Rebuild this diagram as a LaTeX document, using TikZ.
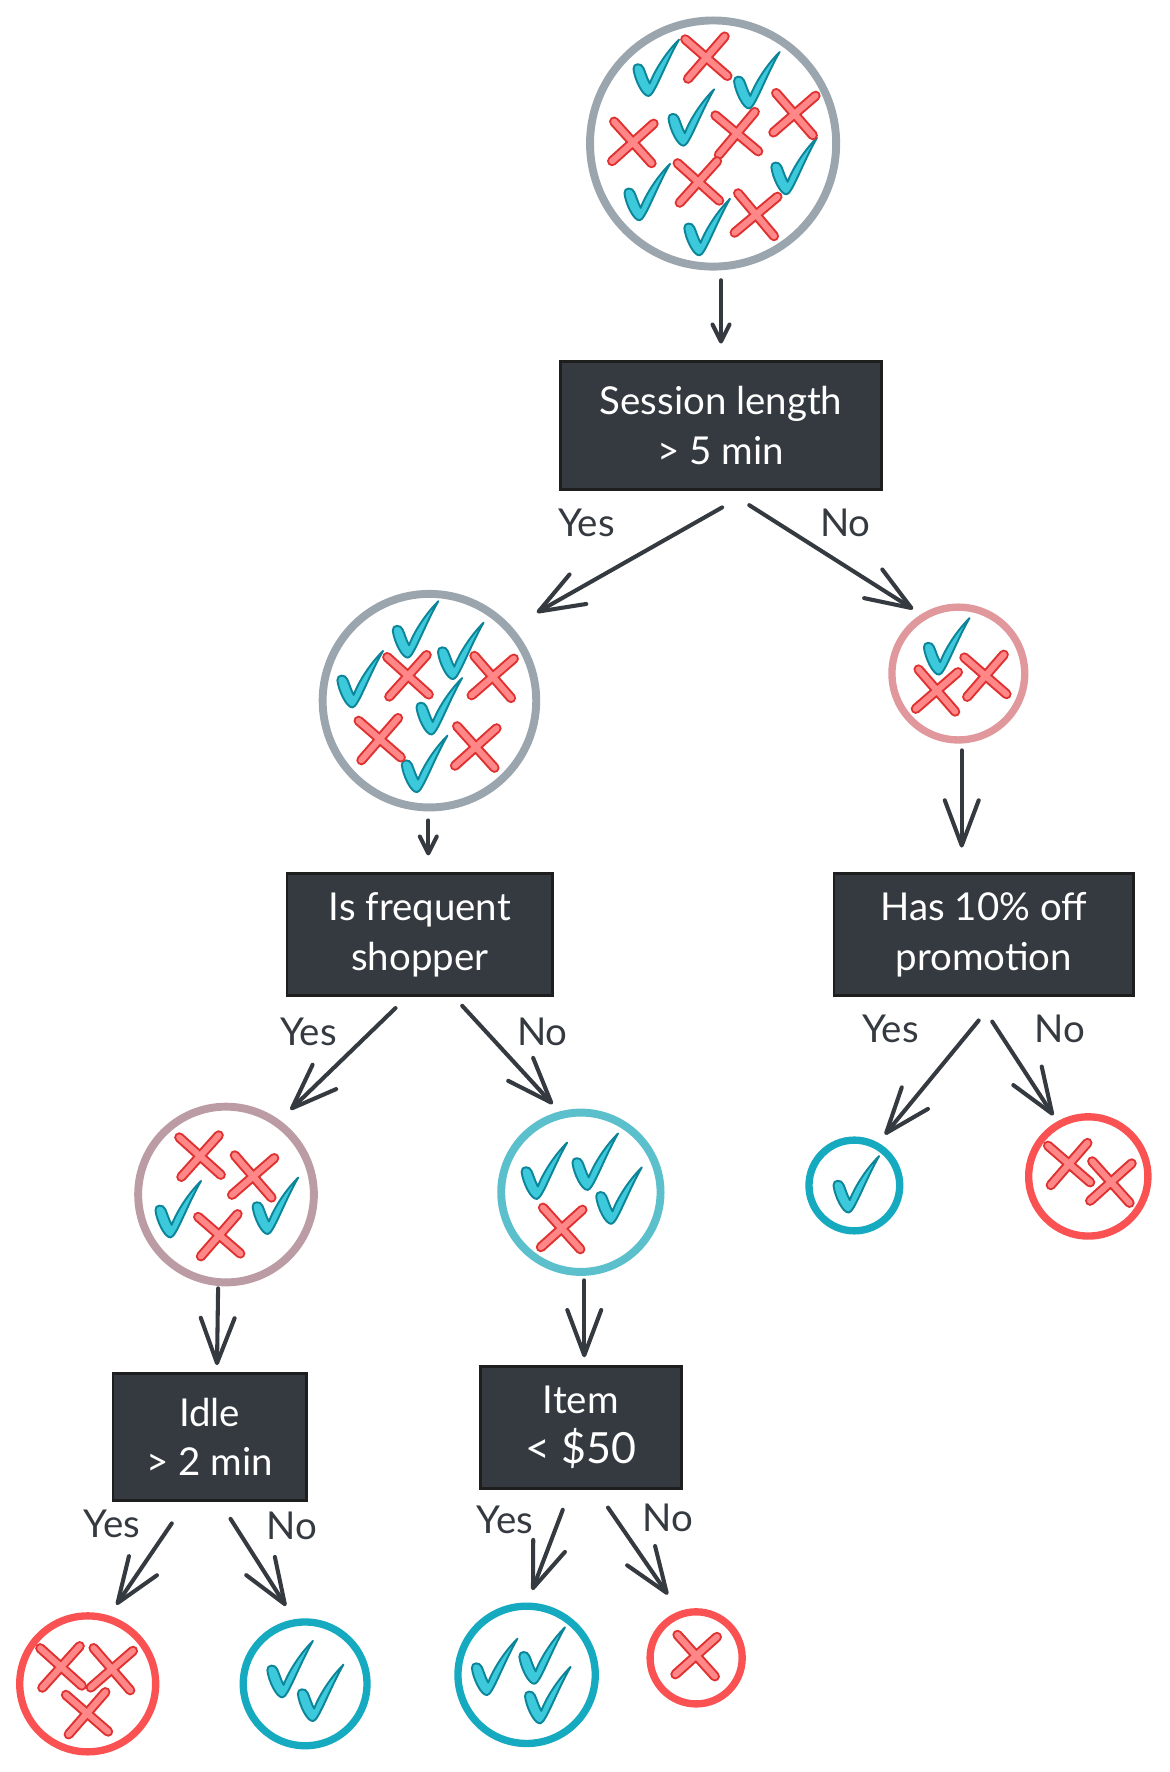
\documentclass[tikz,border=0pt]{standalone}
\usepackage{fontspec}
\setmainfont{Lato}
\usetikzlibrary{arrows.meta,calc}
\definecolor{ink}{HTML}{343A40}
\definecolor{boxfill}{HTML}{343A40}
\definecolor{boxline}{HTML}{1E1E1E}
\definecolor{ringgray}{HTML}{9AA5AE}
\definecolor{ringpink}{HTML}{E0989C}
\definecolor{ringmauve}{HTML}{BC9CA4}
\definecolor{ringlteal}{HTML}{5BBFCC}
\definecolor{ringteal}{HTML}{15AABF}
\definecolor{ringred}{HTML}{FA5252}
\definecolor{chkfill}{HTML}{3BC9DB}
\definecolor{chkline}{HTML}{0C8599}
\definecolor{xfill}{HTML}{FF8787}
\definecolor{xline}{HTML}{E03131}
\tikzset{
  ring/.style={circle, draw=#1, line width=7pt, inner sep=0pt, fill=white},
  ringsm/.style={circle, draw=#1, line width=6.5pt, inner sep=0pt, fill=white},
  box/.style={draw=boxline, fill=boxfill, line width=2.5pt, text=white, align=center, inner sep=0pt, font=\fontsize{34}{44}\selectfont},
  lbl/.style={text=ink, inner sep=0pt, font=\fontsize{34}{40}\selectfont},
  arr/.style={draw=ink, line width=3.6pt, line cap=round, -{Straight Barb[length=40pt,width=30pt,round]}},
  arrs/.style={draw=ink, line width=3.6pt, line cap=round, -{Straight Barb[length=15pt,width=15pt,round]}},
  chk/.pic={\filldraw[fill=chkfill, draw=chkline, line width=1.7pt, line join=round, scale=48]
     (-0.28,-0.46) .. controls (-0.26,-0.27) and (-0.11,0.05) .. (0.0,0.04)
     .. controls (0.1,0.04) and (0.3,-0.55) .. (0.56,-1.0)
     .. controls (0.28,-0.72) and (0.09,-0.38) .. (0.02,-0.19)
     .. controls (-0.03,-0.28) and (-0.07,-0.42) .. (-0.1,-0.48)
     .. controls (-0.13,-0.57) and (-0.29,-0.57) .. (-0.28,-0.46) -- cycle;},
  xm/.pic={\draw[xline, line width=9pt, line cap=round] (-17.5,-17.5)--(17.5,17.5) (-17.5,17.5)--(17.5,-17.5);
     \draw[xfill, line width=5.4pt, line cap=round] (-17.5,-17.5)--(17.5,17.5) (-17.5,17.5)--(17.5,-17.5);},
}
\begin{document}
\begin{tikzpicture}[x=1pt,y=-1pt]
\useasboundingbox (0,0) rectangle (1034.5,1568);
% rings
\node[ring=ringgray, minimum size=217.8pt] (c0) at (631,127) {};
\node[ring=ringgray, minimum size=189pt] (c1) at (380,620) {};
\node[ringsm=ringpink, minimum size=117.5pt] (c2) at (848,596) {};
\node[ring=ringmauve, minimum size=155.5pt] (c3) at (200,1057) {};
\node[ring=ringlteal, minimum size=141pt] (c4) at (514,1055) {};
\node[ringsm=ringteal, minimum size=80.3pt] (lpy) at (756,1049) {};
\node[ringsm=ringred, minimum size=105.5pt] (lpn) at (963,1041) {};
\node[ringsm=ringred, minimum size=120.3pt] (c5) at (77.6,1490) {};
\node[ringsm=ringteal, minimum size=109.5pt] (c6) at (270,1490) {};
\node[ringsm=ringteal, minimum size=121.5pt] (c7) at (466,1482) {};
\node[ringsm=ringred, minimum size=81.5pt] (c8) at (616,1467) {};
% marks in c0
\pic at (574,83) {chk}; \pic at (663,94) {chk}; \pic at (605,127) {chk};
\pic at (566,193) {chk}; \pic at (696,170) {chk}; \pic at (619,224) {chk};
\pic[rotate=4] at (625,51) {xm}; \pic[rotate=-3] at (560,126) {xm}; \pic[rotate=5] at (652,118) {xm};
\pic[rotate=-4] at (703,101) {xm}; \pic[rotate=3] at (618,161) {xm}; \pic[rotate=-5] at (669,190) {xm};
% marks in c1
\pic at (312,624) {chk}; \pic at (361,580) {chk}; \pic at (401,599) {chk};
\pic at (382,648) {chk}; \pic at (369,699) {chk};
\pic[rotate=3] at (361,598) {xm}; \pic[rotate=-4] at (436,599) {xm};
\pic[rotate=4] at (336,654) {xm}; \pic[rotate=-3] at (421,661) {xm};
% c2
\pic at (831,595) {chk};
\pic[rotate=-4] at (829,611) {xm}; \pic[rotate=4] at (872,598) {xm};
% c3
\pic at (151,1093) {chk}; \pic at (237,1090) {chk};
\pic[rotate=3] at (177,1023) {xm}; \pic[rotate=-4] at (224,1041) {xm}; \pic[rotate=4] at (194,1093) {xm};
% c4
\pic at (475,1059) {chk}; \pic at (520,1051) {chk}; \pic at (541,1081) {chk};
\pic[rotate=-3] at (497,1087) {xm};
% leaves
\pic at (751,1071) {chk};
\pic[rotate=4] at (946,1030) {xm}; \pic[rotate=-3] at (983,1046) {xm};
\pic[rotate=3] at (54,1475) {xm}; \pic[rotate=-4] at (99,1477) {xm}; \pic[rotate=4] at (77,1516) {xm};
\pic at (250,1500) {chk}; \pic at (277,1521) {chk};
\pic at (431,1498) {chk}; \pic at (473,1488) {chk}; \pic at (478,1523) {chk};
\pic[rotate=-3] at (616,1465) {xm};
% boxes
\node[box, minimum width=284pt, minimum height=113pt] (b1) at (638,376.5) {Session length\\> 5 min};
\node[box, minimum width=235pt, minimum height=108pt] (b3) at (371.5,827) {Is frequent\\shopper};
\node[box, minimum width=265pt, minimum height=108pt] (b2) at (870.5,827) {Has 10\% off\\promotion};
\node[box, minimum width=171pt, minimum height=113pt] (bI) at (185.5,1271.5) {Idle\\> 2 min};
\node[box, minimum width=178pt, minimum height=108pt] (bT) at (514,1263) {Item\\{\fontsize{38}{44}\selectfont< \$50}};
% arrows
\draw[arrs] ($(c0)+(7,121)$) -- ($(b1)+(0,-72.5)$);
\draw[arr] ($(b1)+(1,72.5)$) -- ($(c1)+(95,-78)$);
\draw[arr] ($(b1)+(25,70.5)$) -- ($(c2)+(-40,-57)$);
\draw[arrs] ($(c1)+(-1,106)$) -- ($(b3)+(7.5,-70)$);
\draw[arr] ($(c2)+(3,68)$) -- ($(b2)+(-19.5,-77)$);
\draw[arr] ($(b3)+(-21.5,65)$) -- ($(c3)+(57,-75)$);
\draw[arr] ($(b3)+(37.5,63)$) -- ($(c4)+(-25,-78)$);
\draw[arr] ($(b2)+(-4.5,76)$) -- ($(lpy)+(27,-45)$);
\draw[arr] ($(b2)+(7.5,77)$) -- ($(lpn)+(-31,-54)$);
\draw[arr] ($(c3)+(-7,83)$) -- ($(bI)+(6.5,-63.5)$);
\draw[arr] ($(c4)+(3,78)$) -- ($(bT)+(3,-62)$);
\draw[arr] ($(bI)+(-33.5,76.5)$) -- ($(c5)+(25.4,-70)$);
\draw[arr] ($(bI)+(18.5,72.5)$) -- ($(c6)+(-17,-69)$);
\draw[arr] ($(bT)+(-16,73)$) -- ($(c7)+(5,-75)$);
\draw[arr] ($(bT)+(24,71)$) -- ($(c8)+(-25,-56)$);
% labels
\node[lbl] (y1) at (519,463) {Yes};
\node[lbl] (n1) at (748,463) {No};
\node[lbl] (y3) at (273,913) {Yes};
\node[lbl] (n3) at (480,913) {No};
\node[lbl] (y2) at (788,910) {Yes};
\node[lbl] (n2) at (938,910) {No};
\node[lbl] (yI) at (99,1348) {Yes};
\node[lbl] (nI) at (258,1350) {No};
\node[lbl] (yT) at (447,1345) {Yes};
\node[lbl] (nT) at (591,1343) {No};
\end{tikzpicture}
\end{document}
